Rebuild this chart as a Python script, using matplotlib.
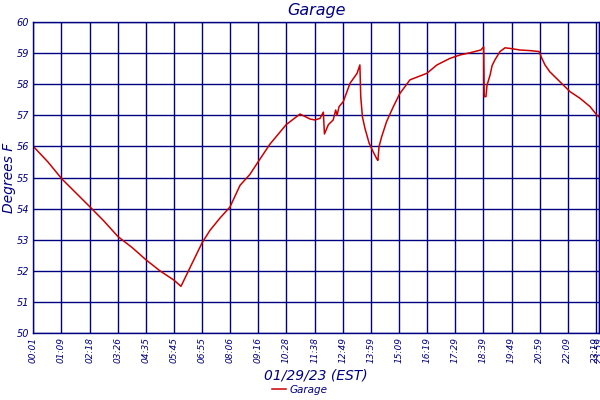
import matplotlib
matplotlib.use("Agg")
import matplotlib.pyplot as plt

# x positions are in units of the category tick spacing (sample-index based axis)
x_pos = [0.0, 0.52, 1.02, 1.52, 2.02, 2.51, 3.01, 3.51, 4.01, 4.50, 5.00, 5.25,
         5.57, 6.00, 6.28, 6.64, 6.99, 7.35, 7.70, 7.99, 8.41, 8.99, 9.48, 9.84,
         10.01, 10.19, 10.31, 10.35, 10.49, 10.66, 10.75, 10.80, 10.87, 11.02,
         11.26, 11.51, 11.61, 11.64, 11.70, 11.79, 11.94, 12.08, 12.21, 12.25,
         12.29, 12.38, 12.56, 12.80, 13.03, 13.39, 13.99, 14.35, 14.81, 15.17,
         15.52, 15.91, 16.01, 16.03, 16.09, 16.13, 16.24, 16.31, 16.41, 16.59,
         16.77, 16.95, 17.30, 17.66, 17.98, 18.08, 18.19, 18.36, 18.72, 19.08,
         19.43, 19.79, 20.04, 20.11]
temps = [56.0, 55.5, 54.95, 54.5, 54.05, 53.6, 53.1, 52.75, 52.35, 52.0, 51.7, 51.5,
         52.1, 52.9, 53.3, 53.7, 54.05, 54.75, 55.1, 55.5, 56.07, 56.7, 57.04, 56.88,
         56.85, 56.9, 57.1, 56.4, 56.7, 56.85, 57.17, 57.0, 57.28, 57.44,
         58.03, 58.35, 58.62, 57.6, 56.95, 56.58, 56.1, 55.83, 55.6, 55.55,
         55.99, 56.3, 56.8, 57.28, 57.7, 58.14, 58.35, 58.62, 58.83, 58.94,
         59.01, 59.1, 59.2, 57.6, 57.6, 57.97, 58.3, 58.6, 58.78, 59.05,
         59.17, 59.15, 59.1, 59.08, 59.05, 58.83, 58.62, 58.4, 58.08, 57.76,
         57.55, 57.28, 57.0, 56.95]

x_tick_labels = ["00:01", "01:09", "02:18", "03:26", "04:35", "05:45", "06:55",
                 "08:06", "09:16", "10:28", "11:38", "12:49", "13:59", "15:09",
                 "16:19", "17:29", "18:39", "19:49", "20:59", "22:09", "23:19", "23:59"]
x_tick_pos = list(range(21)) + [20.11]
y_ticks = [50, 51, 52, 53, 54, 55, 56, 57, 58, 59, 60]

navy = "#000080"
red = "#CC0000"
plt.rcParams['font.family'] = ['DejaVu Sans']

fig = plt.figure(figsize=(6, 4), dpi=100)
ax = fig.add_axes([33.3/600, (400-333)/400, (599-33.3)/600, (333-22)/400])

ax.plot(x_pos, temps, color=red, lw=1.1, label="Garage")

ax.set_xlim(0, 20.11)
ax.set_ylim(50, 60)
ax.set_xticks(x_tick_pos)
ax.set_xticklabels(x_tick_labels, rotation=90, fontsize=6.5, style='italic', color=navy)
ax.set_yticks(y_ticks)
ax.set_yticklabels([str(v) for v in y_ticks], fontsize=7, style='italic', color=navy)
ax.tick_params(length=0, pad=3)
ax.grid(True, color=navy, lw=1.0)
for s in ax.spines.values():
    s.set_color(navy)
    s.set_linewidth(1.0)
ax.set_axisbelow(True)

ax.set_title("Garage", fontsize=11.5, style='italic', color=navy, pad=5)
ax.set_ylabel("Degrees F", fontsize=10, style='italic', color=navy)
ax.yaxis.set_label_coords(-0.030, 0.5)
ax.set_xlabel("01/29/23 (EST)", fontsize=10, style='italic', color=navy, labelpad=4)

fig.legend(loc='lower center', bbox_to_anchor=(0.5, -0.01), frameon=False,
           handlelength=1.3, handletextpad=0.4,
           prop={'style': 'italic', 'size': 7.5})
for t in fig.legends[0].get_texts():
    t.set_color(navy)

fig.savefig("out.png", dpi=100)
